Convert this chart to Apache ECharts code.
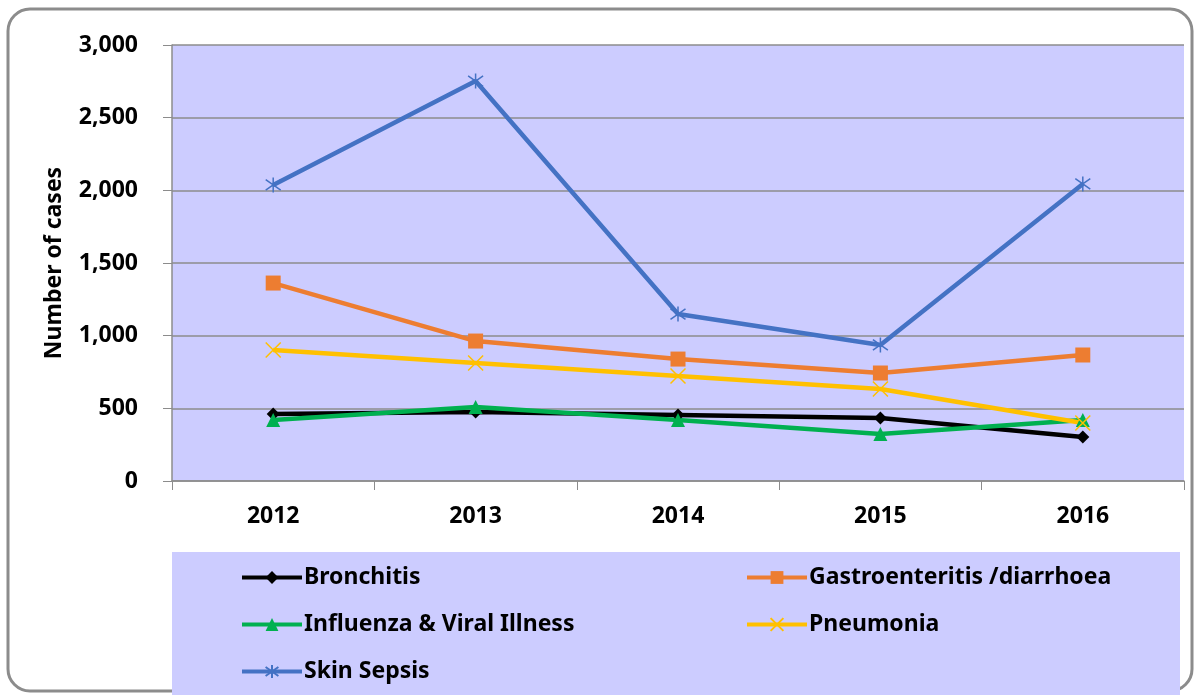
<!DOCTYPE html>
<html>
<head>
<meta charset="utf-8">
<script src="https://cdn.jsdelivr.net/npm/echarts@6/dist/echarts.min.js"></script>
<style>
html, body { margin: 0; padding: 0; background: #fff; }
#main { width: 1198px; height: 695px; }
</style>
</head>
<body>
<div id="main"></div>
<script>
// 年份
var years = ['2012', '2013', '2014', '2015', '2016'];
// 各病例数
var bronchitis = [461, 475, 454, 433, 303];
var gastro = [1362, 963, 839, 743, 867];
var influenza = [420, 509, 420, 323, 420];
var pneumonia = [901, 812, 722, 633, 399];
var skinSepsis = [2037, 2752, 1149, 936, 2044];

var FONT = 'Noto Sans';
var FS = 23;
var crossPath = 'path://M0 0L10 10M10 0L0 10';
var starPath = 'path://M5 0L5 10M0 1.5L10 8.5M0 8.5L10 1.5';

function makeSeries(name, data, color, symbol, size, stroke) {
	var s = {
		name: name,
		type: 'line',
		data: data,
		symbol: symbol,
		symbolSize: size,
		lineStyle: { color: color, width: 4.5 },
		itemStyle: { color: color },
		z: 3
	};
	if (stroke) {
		s.itemStyle = { color: color, borderColor: color, borderWidth: 1.5 };
	}
	return s;
}

function makeLegend(name, left, top) {
	return {
		data: [name],
		left: left,
		top: top,
		padding: 0,
		itemWidth: 60,
		itemHeight: 16,
		lineStyle: { width: 4 },
		textStyle: { fontFamily: FONT, fontWeight: 'bold', fontSize: FS, color: '#000', padding: [0, 0, 0, -3] }
	};
}

var myChart = echarts.init(document.getElementById('main'));

var option = {
	animation: false,
	backgroundColor: '#fff',
	graphic: [
		{
			type: 'rect',
			shape: { x: 8, y: 9, width: 1184, height: 682, r: 22 },
			style: { fill: 'none', stroke: '#8c8c8c', lineWidth: 3 },
			z: 0
		},
		{
			type: 'rect',
			shape: { x: 172, y: 552, width: 1008, height: 143 },
			style: { fill: '#CCCCFF' },
			z: 0
		}
	],
	grid: {
		left: 172, right: 14, top: 45, bottom: 214,
		show: true, backgroundColor: '#CCCCFF', borderWidth: 0
	},
	legend: [
		makeLegend('Bronchitis', 240, 566),
		makeLegend('Gastroenteritis /diarrhoea', 745, 566),
		makeLegend('Influenza & Viral Illness', 240, 613),
		makeLegend('Pneumonia', 745, 613),
		makeLegend('Skin Sepsis', 240, 660)
	],
	xAxis: {
		type: 'category',
		data: years,
		boundaryGap: true,
		axisLine: { lineStyle: { color: '#8c8c8c', width: 1.5 } },
		axisTick: { show: true, length: 9, lineStyle: { color: '#8c8c8c' } },
		axisLabel: { fontFamily: FONT, fontWeight: 'bold', fontSize: FS, color: '#000', margin: 24 }
	},
	yAxis: {
		type: 'value',
		min: 0, max: 3000, interval: 500,
		name: 'Number of cases',
		nameLocation: 'middle',
		nameGap: 106,
		nameRotate: 90,
		nameTextStyle: { fontFamily: FONT, fontWeight: 'bold', fontSize: FS, color: '#000' },
		axisLine: { show: true, lineStyle: { color: '#8c8c8c', width: 1.5 } },
		axisTick: { show: true, length: 9, lineStyle: { color: '#8c8c8c' } },
		splitLine: { lineStyle: { color: '#8c8c8c', width: 1.5 } },
		axisLabel: {
			fontFamily: FONT, fontWeight: 'bold', fontSize: FS, color: '#000', margin: 34,
			formatter: function (v) { return v.toLocaleString('en-US'); }
		}
	},
	series: [
		makeSeries('Bronchitis', bronchitis, '#000000', 'diamond', 13),
		makeSeries('Gastroenteritis /diarrhoea', gastro, '#ED7D31', 'rect', 15),
		makeSeries('Influenza & Viral Illness', influenza, '#00B050', 'triangle', 14),
		makeSeries('Pneumonia', pneumonia, '#FFC000', crossPath, 15, true),
		makeSeries('Skin Sepsis', skinSepsis, '#4472C4', starPath, 15, true)
	]
};

myChart.setOption(option);
</script>
</body>
</html>
